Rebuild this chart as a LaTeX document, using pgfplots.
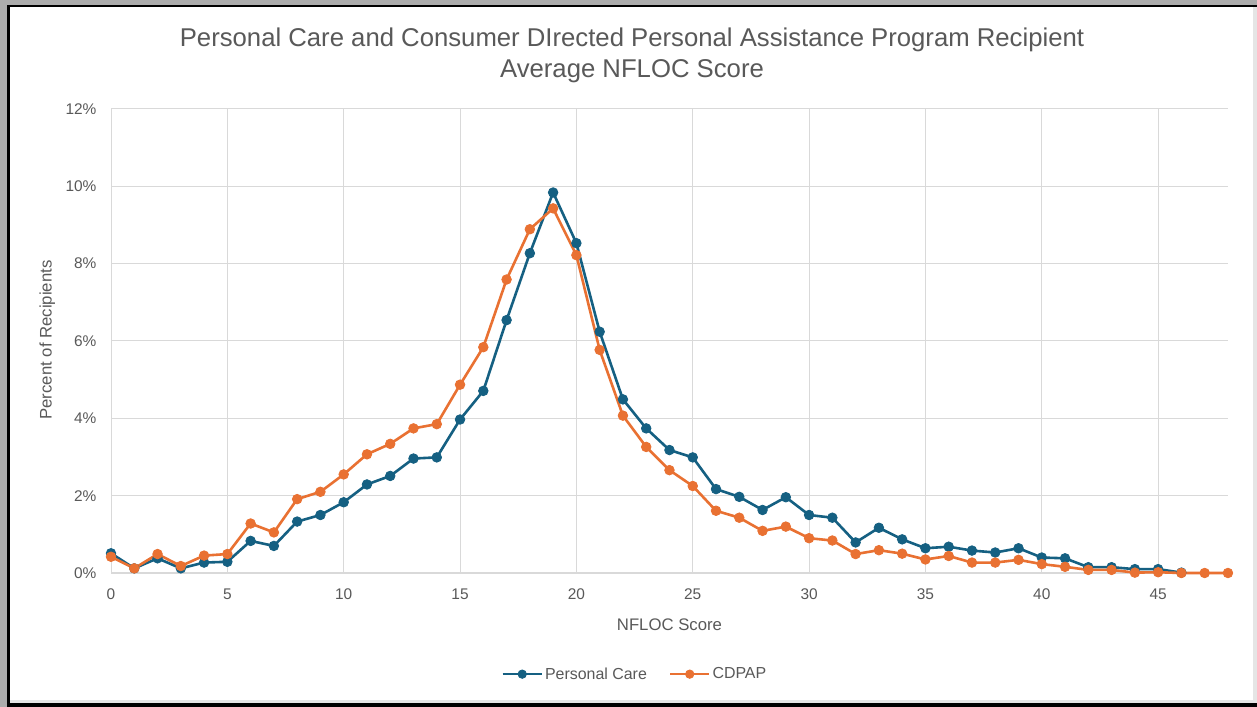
\documentclass[border=0pt]{standalone}
\usepackage{fontspec}
\setmainfont{Liberation Sans}
\usepackage{pgfplots}
\pgfplotsset{compat=1.18}

\definecolor{pcblue}{HTML}{156082}
\definecolor{cdorange}{HTML}{E97132}
\definecolor{txtgray}{HTML}{595959}
\definecolor{gridgray}{HTML}{D9D9D9}

\begin{document}
\begin{tikzpicture}
\useasboundingbox (0,0) rectangle (1257bp,707bp);
% window frame around the chart
\fill[gray!65] (0,0) rectangle (1257bp,707bp);
\fill[black] (7bp,0) rectangle (1257bp,702bp);
\fill[gray!20] (10bp,4bp) rectangle (1257bp,700bp);
\fill[white] (10bp,7bp) rectangle (1253bp,700bp);

% chart title
\node[txtgray, font=\fontsize{25.8}{30}\selectfont] at (632bp,667bp)
  {Personal Care and Consumer DIrected Personal Assistance Program Recipient};
\node[txtgray, font=\fontsize{25.8}{30}\selectfont] at (632bp,636bp)
  {Average NFLOC Score};

\begin{axis}[
  at={(111bp,134bp)}, anchor=south west,
  scale only axis, width=1117bp, height=464bp,
  xmin=0, xmax=48, ymin=0, ymax=12,
  xtick={0,5,...,45}, ytick={0,2,...,12},
  yticklabel={\pgfmathprintnumber{\tick}\%},
  /pgf/number format/assume math mode=true,
  axis x line*=bottom, axis y line*=left,
  axis line style={-},
  x axis line style={gridgray, line width=1.3bp},
  y axis line style={draw=none},
  major tick length=0pt,
  grid=major,
  major grid style={gridgray, line width=1bp},
  tick label style={txtgray, font=\fontsize{15.5}{18}\selectfont},
  xticklabel style={yshift=-12bp},
  yticklabel style={xshift=-11bp},
  xlabel={NFLOC Score},
  ylabel={Percent of Recipients},
  label style={txtgray, font=\fontsize{16.8}{20}\selectfont},
  xlabel style={at={(axis description cs:0.5,-0.112)}, anchor=center},
  ylabel style={at={(axis description cs:-0.057,0.502)}, anchor=center, rotate=0},
  legend columns=2,
  legend style={at={(axis description cs:0.469,-0.218)}, anchor=center,
    draw=none, fill=none, text=txtgray, font=\fontsize{16}{18}\selectfont,
    /tikz/every even column/.append style={column sep=20bp},
    nodes={inner sep=2bp}},
  legend image code/.code={%
    \draw[#1, mark repeat=2, mark phase=2, mark size=4.2bp]
      plot coordinates {(0bp,0bp) (19.5bp,0bp) (39bp,0bp)};},
  clip=false,
]
\addplot[pcblue, line width=2.6bp, mark=*, mark size=4.8bp, mark options={solid, line width=0.8bp}]
coordinates {
(0,0.51) (1,0.12) (2,0.38) (3,0.12) (4,0.27) (5,0.29) (6,0.83) (7,0.70)
(8,1.33) (9,1.50) (10,1.83) (11,2.29) (12,2.51) (13,2.96) (14,2.99) (15,3.97)
(16,4.71) (17,6.54) (18,8.27) (19,9.84) (20,8.53) (21,6.24) (22,4.49) (23,3.74)
(24,3.18) (25,2.99) (26,2.17) (27,1.97) (28,1.63) (29,1.96) (30,1.50) (31,1.43)
(32,0.79) (33,1.17) (34,0.87) (35,0.64) (36,0.68) (37,0.58) (38,0.53) (39,0.64)
(40,0.40) (41,0.38) (42,0.15) (43,0.15) (44,0.10) (45,0.10) (46,0.01)
};
\addlegendentry{Personal Care}
\addplot[cdorange, line width=2.6bp, mark=*, mark size=4.8bp, mark options={solid, line width=0.8bp}]
coordinates {
(0,0.42) (1,0.12) (2,0.49) (3,0.18) (4,0.45) (5,0.49) (6,1.28) (7,1.05)
(8,1.91) (9,2.10) (10,2.55) (11,3.07) (12,3.34) (13,3.74) (14,3.85) (15,4.87)
(16,5.84) (17,7.59) (18,8.89) (19,9.43) (20,8.22) (21,5.77) (22,4.07) (23,3.26)
(24,2.66) (25,2.25) (26,1.61) (27,1.43) (28,1.09) (29,1.20) (30,0.90) (31,0.84)
(32,0.49) (33,0.59) (34,0.50) (35,0.35) (36,0.44) (37,0.27) (38,0.27) (39,0.34)
(40,0.23) (41,0.16) (42,0.08) (43,0.08) (44,0.01) (45,0.02) (46,0) (47,0) (48,0)
};
\addlegendentry{CDPAP}
\end{axis}
\end{tikzpicture}
\end{document}
